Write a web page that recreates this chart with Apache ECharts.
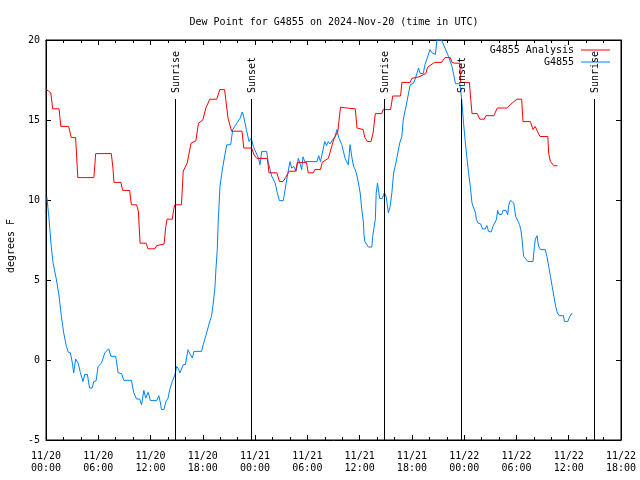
<!DOCTYPE html>
<html>
<head>
<meta charset="utf-8">
<script src="https://cdn.jsdelivr.net/npm/echarts@6/dist/echarts.min.js"></script>
<style>html,body{margin:0;padding:0;background:#fff}#c{width:640px;height:480px}</style>
</head>
<body>
<div id="c"></div>
<script>
// hours since 2024-11-20 00:00 UTC
var titleText = 'Dew Point for G4855 on 2024-Nov-20 (time in UTC)';
var yName = 'degrees F';
var seriesNames = ['G4855 Analysis', 'G4855'];
var xTicksHours = [0, 6, 12, 18, 24, 30, 36, 42, 48, 54, 60, 66];
var yTicks = [-5, 0, 5, 10, 15, 20];

var analysis = [[0.05,16.9],[0.3,16.8],[0.55,16.7],[0.77,15.7],[1.5,15.7],[1.7,14.6],[2.6,14.6],[2.9,13.9],[3.4,13.9],[3.65,11.4],[3.85,11.5],[4.1,11.4],[5.5,11.4],[5.7,12.9],[7.5,12.9],[7.7,11.9],[7.8,11.1],[8.6,11.1],[8.8,10.6],[9.6,10.6],[9.8,9.7],[10.4,9.7],[10.6,9.3],[10.8,7.3],[11.5,7.3],[11.7,6.95],[12.5,6.95],[12.7,7.15],[12.8,7.25],[13.55,7.25],[13.75,8.35],[13.9,8.8],[14.5,8.8],[14.65,9.4],[14.8,9.7],[15.55,9.7],[15.75,11.8],[16.2,12.3],[16.65,13.55],[17.2,13.7],[17.5,14.8],[18.0,15.0],[18.35,15.75],[18.8,16.3],[19.6,16.3],[19.95,16.9],[20.5,16.9],[20.65,16.2],[20.9,15.1],[21.3,14.3],[22.5,14.3],[22.7,13.25],[23.6,13.25],[23.9,12.8],[24.2,12.6],[25.4,12.6],[25.6,11.7],[26.5,11.7],[26.8,11.15],[27.2,11.15],[27.5,11.4],[27.9,11.8],[28.65,11.8],[28.85,12.35],[29.9,12.35],[30.1,11.7],[30.7,11.7],[30.85,11.9],[31.5,11.9],[31.7,12.35],[32.4,12.6],[32.8,13.35],[33.0,13.75],[33.5,14.3],[33.8,15.8],[34.5,15.75],[35.5,15.7],[35.7,14.5],[36.4,14.4],[36.6,13.9],[36.9,13.65],[37.3,13.65],[37.55,14.2],[37.8,15.4],[38.55,15.4],[38.7,15.65],[39.55,15.65],[39.8,16.5],[40.7,16.5],[40.85,17.35],[41.8,17.35],[42.0,17.6],[42.8,17.7],[43.6,17.9],[43.8,18.3],[44.6,18.6],[45.4,18.6],[45.8,18.9],[46.4,18.9],[46.6,18.6],[46.9,18.55],[47.5,18.55],[47.6,17.35],[48.6,17.35],[48.75,16.3],[48.9,15.4],[49.5,15.4],[49.8,15.05],[50.3,15.05],[50.5,15.27],[51.4,15.27],[51.8,15.75],[52.9,15.75],[53.3,15.96],[54.05,16.3],[54.6,16.3],[54.75,14.9],[55.6,14.9],[55.9,14.4],[56.15,14.6],[56.4,14.3],[56.7,13.97],[57.6,13.97],[57.7,12.9],[57.9,12.4],[58.3,12.14],[58.7,12.14]];

var observed = [[0.1,10.2],[0.35,8.8],[0.6,7.1],[0.8,6.1],[1.2,5.0],[1.5,4.0],[1.77,2.7],[2.03,1.7],[2.34,0.85],[2.57,0.48],[2.8,0.45],[3.03,-0.2],[3.18,-0.8],[3.4,0.06],[3.7,-0.2],[3.95,-0.8],[4.25,-1.35],[4.45,-0.9],[4.75,-0.9],[5.0,-1.75],[5.3,-1.75],[5.48,-1.35],[5.75,-1.3],[5.98,-0.4],[6.36,-0.2],[6.75,0.44],[7.2,0.7],[7.44,0.23],[8.0,0.23],[8.1,0.3],[8.28,-0.8],[8.67,-0.85],[8.93,-1.27],[9.8,-1.27],[10.08,-2.06],[10.4,-2.44],[10.75,-2.44],[10.97,-2.8],[11.23,-1.9],[11.45,-2.38],[11.72,-2.02],[12.0,-2.54],[12.7,-2.54],[12.95,-2.23],[13.1,-2.6],[13.26,-3.1],[13.53,-3.1],[13.76,-2.6],[14.0,-2.4],[14.2,-1.86],[14.5,-1.34],[14.8,-0.92],[15.0,-0.4],[15.2,-0.55],[15.37,-0.81],[15.55,-0.81],[15.75,-0.29],[16.0,-0.29],[16.3,0.64],[16.5,0.4],[16.8,0.13],[16.98,0.54],[17.86,0.54],[18.05,0.96],[18.44,1.69],[18.74,2.31],[19.0,2.73],[19.2,3.56],[19.4,4.6],[19.5,5.64],[19.66,6.9],[19.77,8.7],[19.97,10.85],[20.3,12.1],[20.74,13.45],[21.2,13.45],[21.43,14.4],[21.9,14.8],[22.27,15.1],[22.53,15.5],[22.7,15.2],[23.0,14.4],[23.3,13.66],[23.56,13.87],[23.8,13.35],[24.0,13.1],[24.4,12.6],[24.56,12.2],[24.76,13.04],[25.33,13.04],[25.5,12.4],[25.9,11.5],[26.3,11.06],[26.55,10.44],[26.8,9.96],[27.24,9.96],[27.44,10.64],[27.7,11.5],[28.0,12.4],[28.2,12.0],[28.45,12.1],[28.7,11.79],[28.97,12.6],[29.2,12.2],[29.35,11.9],[29.5,12.7],[29.7,12.4],[31.1,12.4],[31.3,12.77],[31.5,12.4],[31.7,12.5],[32.0,13.66],[32.2,13.4],[32.4,13.66],[32.6,13.5],[32.9,13.77],[33.15,13.95],[33.4,14.4],[33.6,13.9],[33.76,13.97],[33.95,13.46],[34.15,13.46],[34.33,12.6],[34.5,12.6],[34.7,12.2],[34.9,13.46],[35.1,12.7],[35.3,12.1],[35.5,11.9],[35.7,11.5],[35.86,11.06],[36.06,10.44],[36.25,9.39],[36.44,8.56],[36.5,7.83],[36.6,7.4],[36.8,7.35],[37.0,7.06],[37.4,7.06],[37.5,7.73],[37.67,8.35],[37.8,8.77],[37.9,10.44],[38.05,11.06],[38.3,10.1],[38.6,10.1],[38.84,10.44],[39.05,10.2],[39.3,9.19],[39.5,9.6],[39.7,10.44],[39.9,11.69],[40.08,12.1],[40.3,12.7],[40.6,13.56],[40.85,13.97],[41.0,15.0],[41.4,16.06],[41.8,17.2],[42.2,17.3],[42.6,17.94],[42.76,18.25],[42.95,17.9],[43.3,17.9],[43.5,18.46],[43.7,18.77],[44.07,19.4],[44.3,19.2],[44.7,19.1],[44.87,20.0],[45.4,20.0],[45.8,19.5],[46.2,18.97],[46.6,18.35],[46.8,17.83],[47.0,17.27],[47.5,17.27],[47.63,16.7],[47.75,16.06],[47.93,14.8],[48.1,13.77],[48.3,12.7],[48.5,11.7],[48.7,10.85],[48.9,9.8],[49.1,9.7],[49.3,9.19],[49.4,8.77],[49.6,8.56],[49.9,8.5],[50.1,8.19],[50.4,8.19],[50.6,8.4],[50.8,8.04],[51.1,8.0],[51.3,8.35],[51.5,8.45],[51.7,8.77],[51.84,9.35],[52.0,9.1],[52.15,9.02],[52.3,9.1],[52.46,9.35],[52.8,9.35],[53.0,9.08],[53.1,9.64],[53.3,9.98],[53.5,10.1],[53.7,9.8],[53.8,9.39],[53.9,8.98],[54.2,8.66],[54.35,8.46],[54.5,8.14],[54.63,7.62],[54.75,6.9],[54.83,6.48],[55.0,6.48],[55.3,6.16],[55.9,6.16],[56.06,7.1],[56.17,7.56],[56.37,7.77],[56.45,7.4],[56.55,7.1],[56.75,6.9],[57.3,6.9],[57.5,6.48],[57.7,5.85],[57.9,5.23],[58.1,4.6],[58.3,3.98],[58.5,3.35],[58.7,2.94],[58.9,2.77],[59.4,2.77],[59.5,2.41],[59.9,2.41],[60.1,2.69],[60.4,2.94]];

var sunTimes = [14.83, 23.56, 38.85, 47.63, 62.9];
var sunLabels = ['Sunrise', 'Sunset', 'Sunrise', 'Sunset', 'Sunrise'];
var sunLineTop = 16.33;

var FONT = '"DejaVu Sans Mono", "Liberation Mono", monospace';
var chart = echarts.init(document.getElementById('c'), null, {renderer: 'canvas'});

function xLabel(v) {
  var d = 20 + Math.floor(v / 24);
  var h = v % 24;
  return '11/' + d + '\n' + (h < 10 ? '0' : '') + h + ':00';
}

var tickCommon = {show: true, inside: true, length: 5, lineStyle: {color: '#000'}};
var lineCommon = {show: true, onZero: false, lineStyle: {color: '#000'}};
var option = {
  animation: false,
  backgroundColor: '#fff',
  title: {
    text: titleText, left: 329, top: 12, textAlign: 'center',
    textStyle: {fontFamily: FONT, fontSize: 10, fontWeight: 'normal', color: '#000'}
  },
  legend: {
    data: seriesNames, orient: 'vertical', right: 30, top: 45, padding: 0,
    align: 'right', icon: 'rect', itemWidth: 29, itemHeight: 1, itemGap: 2,
    textStyle: {fontFamily: FONT, fontSize: 10, color: '#000', lineHeight: 10, padding: [0, 2, 0, 0]}
  },
  grid: {left: 46, right: 19, top: 40, bottom: 40, show: true, borderColor: '#000', borderWidth: 1,
         backgroundColor: 'transparent', containLabel: false, outerBoundsMode: 'none'},
  xAxis: [{
    type: 'value', min: 0, max: 66, interval: 6, position: 'bottom',
    axisLine: lineCommon,
    axisTick: tickCommon,
    minorTick: {show: true, splitNumber: 3, length: 3, lineStyle: {color: '#000'}},
    splitLine: {show: false},
    axisLabel: {formatter: xLabel, fontFamily: FONT, fontSize: 10, color: '#000', lineHeight: 12, margin: 10}
  }, {
    type: 'value', min: 0, max: 66, interval: 6, position: 'top',
    axisLine: lineCommon,
    axisTick: tickCommon,
    minorTick: {show: true, splitNumber: 3, length: 3, lineStyle: {color: '#000'}},
    splitLine: {show: false}, axisLabel: {show: false}
  }],
  yAxis: [{
    type: 'value', min: -5, max: 20, interval: 5,
    name: yName, nameLocation: 'middle', nameGap: 30, nameRotate: 90,
    nameTextStyle: {fontFamily: FONT, fontSize: 10, color: '#000', padding: [0, 12, 0, 0]},
    axisLine: lineCommon,
    axisTick: tickCommon, splitLine: {show: false},
    axisLabel: {fontFamily: FONT, fontSize: 10, color: '#000', margin: 6}
  }, {
    type: 'value', min: -5, max: 20, interval: 5, position: 'right',
    axisLine: lineCommon,
    axisTick: tickCommon, splitLine: {show: false}, axisLabel: {show: false}
  }],
  series: [{
    name: seriesNames[0], type: 'line', data: analysis, showSymbol: false, symbol: 'none',
    color: '#ff0000', lineStyle: {width: 1, color: '#ff0000'}, z: 3
  }, {
    name: seriesNames[1], type: 'line', data: observed, showSymbol: false, symbol: 'none',
    color: '#0080ff', lineStyle: {width: 1, color: '#0080ff'}, z: 2
  }, {
    name: 'sun', type: 'custom', xAxisIndex: 0, yAxisIndex: 0, z: 4,
    data: sunTimes.map(function (t) { return [t, sunLineTop]; }),
    encode: {x: 0, y: 1},
    renderItem: function (params, api) {
      var t = api.value(0);
      var top = api.coord([t, api.value(1)]);
      var bot = api.coord([t, -5]);
      var x = Math.round(top[0]) + 0.5;
      return {
        type: 'group',
        children: [{
          type: 'line', shape: {x1: x, y1: Math.round(top[1]), x2: x, y2: bot[1]},
          style: {stroke: '#000', lineWidth: 1}
        }, {
          type: 'text', x: x + 1, y: Math.round(top[1]) - 6, rotation: Math.PI / 2,
          style: {text: sunLabels[params.dataIndex], font: '10px ' + FONT, fill: '#000', align: 'left', verticalAlign: 'middle'}
        }]
      };
    }
  }]
};
chart.setOption(option);
</script>
</body>
</html>
